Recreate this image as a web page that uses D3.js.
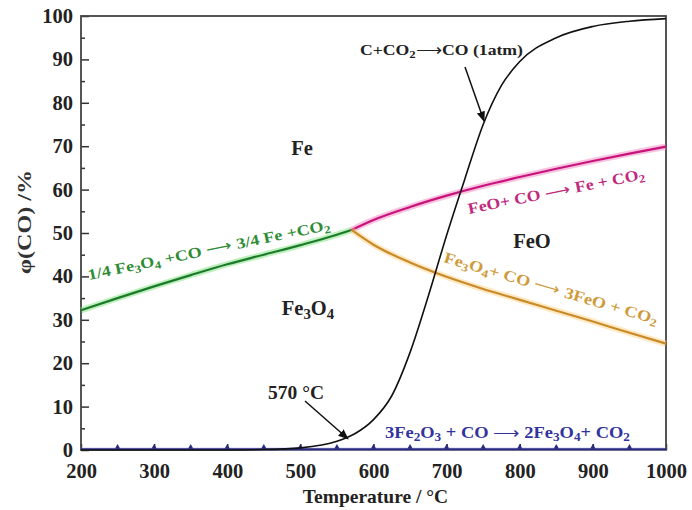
<!DOCTYPE html>
<html>
<head>
<meta charset="utf-8">
<script src="https://cdn.jsdelivr.net/npm/d3@7"></script>
<style>
  body { margin: 0; background: #fff; }
  svg text { font-family: "Liberation Serif", "Times New Roman", serif; font-weight: bold; }
</style>
</head>
<body>
<svg id="chart" width="692" height="510"></svg>
<script>
// Fe–O–C equilibrium (Baur–Glaessner) diagram: CO fraction vs temperature
const xTicks = [200, 300, 400, 500, 600, 700, 800, 900, 1000];
const yTicks = [0, 10, 20, 30, 40, 50, 60, 70, 80, 90, 100];

// 1/4 Fe3O4 + CO -> 3/4 Fe + CO2 (below 570 °C)
const greenT = [200, 250, 300, 350, 400, 450, 500, 550, 570];
const greenV = [32.2, 35.0, 37.7, 40.3, 42.8, 45.0, 47.2, 49.6, 50.7];

// FeO + CO -> Fe + CO2
const pinkT = [570, 600, 650, 700, 750, 800, 850, 900, 950, 1000];
const pinkV = [50.7, 53.0, 56.0, 58.6, 60.9, 62.9, 64.8, 66.6, 68.3, 69.9];

// Fe3O4 + CO -> 3FeO + CO2
const orangeT = [570, 600, 650, 700, 750, 800, 850, 900, 950, 1000];
const orangeV = [50.7, 47.3, 43.2, 39.9, 37.1, 34.6, 32.1, 29.6, 27.0, 24.5];

// C + CO2 -> 2CO at 1 atm
const blackT = [200, 400, 450, 500, 550, 575, 600, 625, 650, 675, 700, 725, 750, 775, 800, 850, 900, 950, 1000];
const blackV = [0, 0, 0.1, 0.5, 2.0, 3.8, 7.0, 12.5, 22.5, 35.5, 49.5, 62.5, 75.0, 84.0, 89.5, 95.0, 97.6, 98.8, 99.4];

// 3Fe2O3 + CO -> 2Fe3O4 + CO2 (practically zero CO)
const blueT = [200, 250, 300, 350, 400, 450, 500, 550, 600, 650, 700, 750, 800, 850, 900, 950, 1000];
const blueV = [0.2, 0.2, 0.2, 0.2, 0.2, 0.2, 0.2, 0.2, 0.2, 0.2, 0.2, 0.2, 0.2, 0.2, 0.2, 0.2, 0.2];

const svg = d3.select("#chart");
const m = { left: 81, right: 666, top: 16, bottom: 450 };

const x = d3.scaleLinear().domain([200, 1000]).range([m.left, m.right]);
const y = d3.scaleLinear().domain([0, 100]).range([m.bottom, m.top]);

const line = d3.line().x(d => x(d[0])).y(d => y(d[1])).curve(d3.curveMonotoneX);
const pairs = (t, v) => t.map((d, i) => [d, v[i]]);

// Axes with inward ticks
const gx = svg.append("g").attr("transform", `translate(0,${m.bottom})`)
  .call(d3.axisBottom(x).tickValues(xTicks).tickSize(-6).tickPadding(13).tickFormat(d3.format("d")));
const gxMinor = svg.append("g").attr("transform", `translate(0,${m.bottom})`)
  .call(d3.axisBottom(x).tickValues(d3.range(250, 1000, 100)).tickSize(-3).tickFormat(""));
const gy = svg.append("g").attr("transform", `translate(${m.left},0)`)
  .call(d3.axisLeft(y).tickValues(yTicks).tickSize(-8).tickPadding(8).tickFormat(d3.format("d")));
const gyMinor = svg.append("g").attr("transform", `translate(${m.left},0)`)
  .call(d3.axisLeft(y).tickValues(d3.range(5, 100, 10)).tickSize(-4).tickFormat(""));

[gx, gy, gxMinor, gyMinor].forEach(g => {
  g.select(".domain").remove();
  g.selectAll("line").attr("stroke", "#333").attr("stroke-width", 1.5);
  g.selectAll("text").attr("font-size", 20.5).attr("fill", "#222")
    .attr("font-family", "'Liberation Serif', serif").attr("font-weight", "bold");
});

// Frame
svg.append("rect")
  .attr("x", m.left).attr("y", m.top)
  .attr("width", m.right - m.left).attr("height", m.bottom - m.top)
  .attr("fill", "none").attr("stroke", "#444").attr("stroke-width", 1.8);

// Curves: soft halo under each coloured boundary
function curve(t, v, color, halo, w, hw) {
  if (halo) {
    svg.append("path").attr("d", line(pairs(t, v))).attr("fill", "none")
      .attr("stroke", halo).attr("stroke-width", w + (hw || 4)).attr("stroke-opacity", 0.45);
  }
  svg.append("path").attr("d", line(pairs(t, v))).attr("fill", "none")
    .attr("stroke", color).attr("stroke-width", w);
}

curve(blueT, blueV, "#2a2a80", "#9a9aff", 1.8, 1.5);
// small markers along the hematite line
svg.append("g").selectAll("path")
  .data(d3.range(250, 1000, 50))
  .join("path")
  .attr("d", d3.symbol(d3.symbolTriangle, 12))
  .attr("transform", d => `translate(${x(d)},${y(0.2) - 2})`)
  .attr("fill", "#2a2a80");

curve(greenT, greenV, "#1d7a2a", "#6fe06f", 2.2);
curve(pinkT, pinkV, "#c8127c", "#f07ab8", 2.2);
curve(orangeT, orangeV, "#c98a2a", "#ffcf7a", 2.2);
curve(blackT, blackV, "#111", null, 1.6);

// Arrow marker
svg.append("defs").append("marker")
  .attr("id", "arr").attr("viewBox", "0 0 10 10").attr("refX", 9).attr("refY", 5)
  .attr("markerWidth", 7).attr("markerHeight", 7).attr("orient", "auto")
  .append("path").attr("d", "M0,1 L10,5 L0,9 Z").attr("fill", "#111");

svg.append("line").attr("x1", 465).attr("y1", 67).attr("x2", 484).attr("y2", 121)
  .attr("stroke", "#111").attr("stroke-width", 1.5).attr("marker-end", "url(#arr)");
svg.append("line").attr("x1", 305).attr("y1", 401).attr("x2", x(565)).attr("y2", y(2.6))
  .attr("stroke", "#111").attr("stroke-width", 1.5).attr("marker-end", "url(#arr)");

// Text helper: parts = [[text, kind]] where kind 1 = subscript, 2 = arrow glyph
function rich(parent, parts, size) {
  parts.forEach(([s, kind]) => {
    const ts = parent.append("tspan")
      .attr("font-size", kind === 1 ? size * 0.72 : size)
      .attr("baseline-shift", kind === 1 ? "-28%" : null)
      .text(s);
    if (kind === 2) ts.attr("font-weight", "normal");
  });
}

function label(px, py, parts, size, color, angle, anchor, len) {
  const t = svg.append("text")
    .attr("transform", `translate(${px},${py}) rotate(${angle || 0})`)
    .attr("fill", color).attr("text-anchor", anchor || "start");
  if (len) t.attr("textLength", len).attr("lengthAdjust", "spacingAndGlyphs");
  rich(t, parts, size);
  return t;
}

// Phase region labels
label(302, 155, [["Fe"]], 20.5, "#222", 0, "middle");
label(532, 248, [["FeO"]], 20.5, "#222", 0, "middle");
label(308, 315, [["Fe"], ["3", 1], ["O"], ["4", 1]], 20.5, "#222", 0, "middle");
label(296, 399, [["570 °C"]], 19.5, "#222", 0, "middle");

// Reaction labels
label(360, 55, [["C+CO"], ["2", 1], ["⟶", 2], ["CO (1atm)"]], 15.5, "#222", 0, "start", 163);
label(89, 280, [["1/4 Fe"], ["3", 1], ["O"], ["4", 1], [" +CO "], ["⟶", 2], [" 3/4 Fe +CO"], ["2", 1]], 15, "#2e8c34", -11.8, "start", 247);
label(469, 214, [["FeO+ CO "], ["⟶", 2], [" Fe + CO"], ["2", 1]], 15.5, "#c02a7e", -11.3, "start", 180);
label(443, 262, [["Fe"], ["3", 1], ["O"], ["4", 1], ["+ CO "], ["⟶", 2], [" 3FeO + CO"], ["2", 1]], 15.5, "#cf9a3a", 16.3, "start", 222);
label(385, 438, [["3Fe"], ["2", 1], ["O"], ["3", 1], [" + CO "], ["⟶", 2], [" 2Fe"], ["3", 1], ["O"], ["4", 1], ["+ CO"], ["2", 1]], 16, "#33339c", 0, "start", 245);

// Axis titles
svg.append("text").attr("x", (m.left + m.right) / 2 + 2).attr("y", 503)
  .attr("text-anchor", "middle").attr("font-size", 19.5).attr("fill", "#222")
  .text("Temperature / °C");
svg.append("text")
  .attr("transform", "translate(31,222) rotate(-90)")
  .attr("text-anchor", "middle").attr("font-size", 19).attr("fill", "#333")
  .attr("font-family", "'Liberation Sans', Arial, sans-serif").attr("font-weight", "bold")
  .attr("textLength", 104).attr("lengthAdjust", "spacingAndGlyphs")
  .text("φ(CO) /%");
</script>
</body>
</html>
